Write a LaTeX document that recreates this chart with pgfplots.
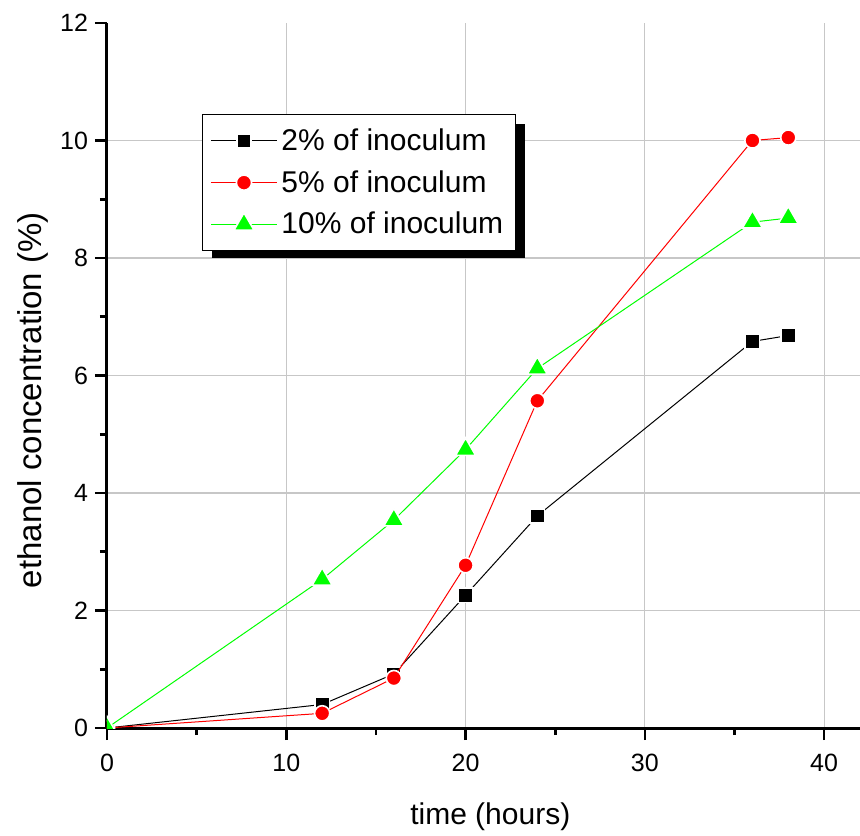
\documentclass[border=0pt]{standalone}
\usepackage{pgfplots}
\pgfplotsset{compat=1.18}
\usepackage{fontspec}
\setmainfont{Liberation Sans}
\definecolor{pgreen}{RGB}{0,255,0}
\definecolor{pred}{RGB}{255,0,0}
\begin{document}
\begin{tikzpicture}
\useasboundingbox (-53.5pt,-53.5pt) rectangle (376.5pt,364pt);
\begin{axis}[
  scale only axis, width=376.5pt, height=352.5pt,
  at={(0,0)}, anchor=south west,
  xmin=0, xmax=42, ymin=0, ymax=12,
  axis lines*=left,
  axis line style={line width=1.5pt},
  xtick={0,10,...,40}, ytick={0,2,...,10},
  extra y ticks={12}, extra y tick style={grid=none},
  minor x tick num=1, minor y tick num=1,
  tick align=outside, major tick length=6pt, minor tick length=3.5pt,
  every tick/.style={black, line width=1.3pt},
  grid=major, major grid style={black!22, line width=0.6pt},
  /pgf/number format/assume math mode=true,
  ticklabel style={font=\fontsize{12.5}{14}\selectfont},
  xticklabel style={yshift=-3.5pt},
  xlabel={time (hours)},
  ylabel={ethanol concentration (\%)},
  xlabel style={font=\fontsize{15}{18}\selectfont, at={(axis description cs:0.509,0)}, anchor=north, inner sep=0pt, yshift=-37pt},
  ylabel style={font=\fontsize{16.5}{19}\selectfont, at={(axis description cs:0,0.465)}, anchor=center, inner sep=0pt, yshift=37pt},
  clip marker paths=true,
  legend cell align=left,
  legend style={at={(rel axis cs:0.126,0.871)}, anchor=north west,
    draw=black, line width=0.6pt, fill=white,
    font=\fontsize{15}{18}\selectfont, inner xsep=4pt, inner ysep=5pt,
    row sep=4.5pt},
  legend image code/.code={\draw[mark repeat=2,mark phase=2] plot coordinates {(0pt,0pt)(16.5pt,0pt)(33pt,0pt)};},
]
\fill[black] (rel axis cs:0.1394,0.857) rectangle (rel axis cs:0.555,0.667);
\addplot[black, line width=0.5pt, mark=square*, mark size=3.6pt, mark options={draw=white, line width=0.8pt, fill=black}]
  coordinates {(0,0) (12,0.40) (16,0.92) (20,2.26) (24,3.61) (36,6.58) (38,6.68)};
\addlegendentry{2\% of inoculum}
\addplot[pred, line width=0.5pt, mark=*, mark size=3.8pt, mark options={draw=white, line width=0.8pt, fill=pred}]
  coordinates {(0,0) (12,0.25) (16,0.85) (20,2.77) (24,5.57) (36,10.0) (38,10.05)};
\addlegendentry{5\% of inoculum}
\addplot[pgreen, line width=0.5pt, mark=triangle*, mark size=5.8pt, mark options={draw=white, line width=0.8pt, fill=pgreen}]
  coordinates {(0,0) (12,2.53) (16,3.54) (20,4.74) (24,6.12) (36,8.61) (38,8.68)};
\addlegendentry{10\% of inoculum}
\end{axis}
\end{tikzpicture}
\end{document}
